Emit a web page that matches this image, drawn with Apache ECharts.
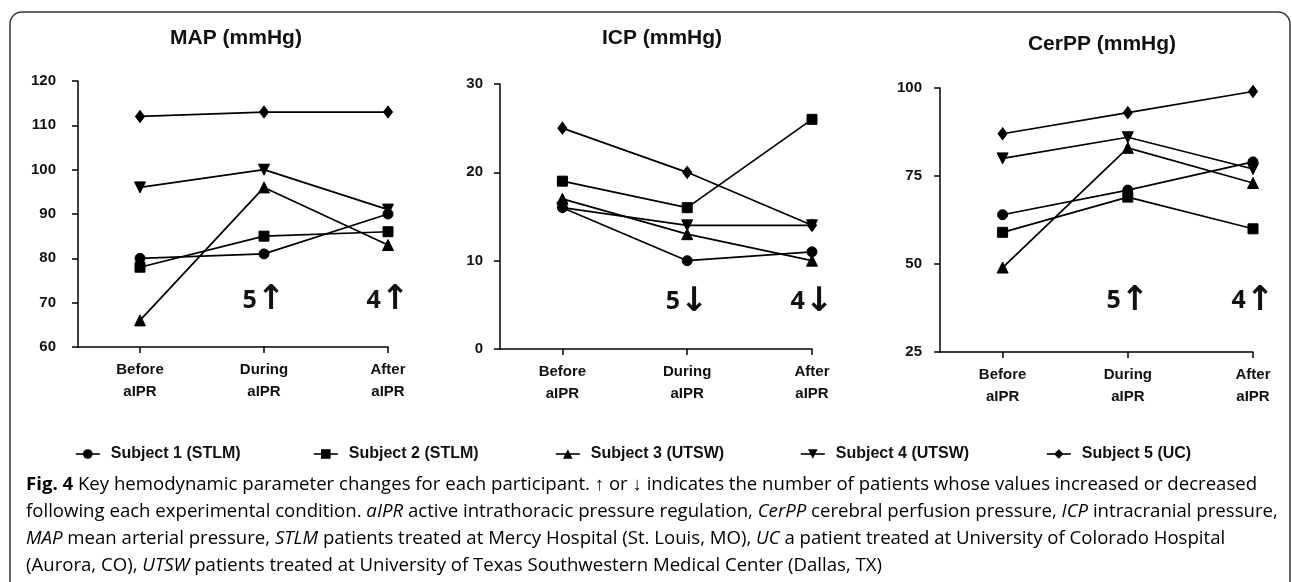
<!DOCTYPE html>
<html>
<head>
<meta charset="utf-8">
<script src="https://cdn.jsdelivr.net/npm/echarts@6/dist/echarts.min.js"></script>
<style>
html,body{margin:0;padding:0;background:#fff;}
#c{width:1292px;height:582px;}
</style>
</head>
<body>
<div id="c"></div>
<script>
// ---------- DATA ----------
const categories = ['Before aIPR', 'During aIPR', 'After aIPR'];
const subjects = ['Subject 1 (STLM)', 'Subject 2 (STLM)', 'Subject 3 (UTSW)', 'Subject 4 (UTSW)', 'Subject 5 (UC)'];
const panelTitles = ['MAP (mmHg)', 'ICP (mmHg)', 'CerPP (mmHg)'];

// values per subject: [Before, During, After]
const mapValues = [
  [80, 81, 90],
  [78, 85, 86],
  [66, 96, 83],
  [96, 100, 91],
  [112, 113, 113]
];
const icpValues = [
  [16, 10, 11],
  [19, 16, 26],
  [17, 13, 10],
  [16, 14, 14],
  [25, 20, 14]
];
const cerppValues = [
  [64, 71, 79],
  [59, 69, 60],
  [49, 83, 73],
  [80, 86, 77],
  [87, 93, 99]
];
const mapTicks = [60, 70, 80, 90, 100, 110, 120];
const icpTicks = [0, 10, 20, 30];
const cerppTicks = [25, 50, 75, 100];
// [count, arrow] for During and After
const changeLabels = [[['5', '↑'], ['4', '↑']], [['5', '↓'], ['4', '↓']], [['5', '↑'], ['4', '↑']]];

const captionLines = [
  [['b', 'Fig. 4'], ['n', ' Key hemodynamic parameter changes for each participant. ↑ or ↓ indicates the number of patients whose values increased or decreased']],
  [['n', 'following each experimental condition. '], ['i', 'aIPR'], ['n', ' active intrathoracic pressure regulation, '], ['i', 'CerPP'], ['n', ' cerebral perfusion pressure, '], ['i', 'ICP'], ['n', ' intracranial pressure,']],
  [['i', 'MAP'], ['n', ' mean arterial pressure, '], ['i', 'STLM'], ['n', ' patients treated at Mercy Hospital (St. Louis, MO), '], ['i', 'UC'], ['n', ' a patient treated at University of Colorado Hospital']],
  [['n', '(Aurora, CO), '], ['i', 'UTSW'], ['n', ' patients treated at University of Texas Southwestern Medical Center (Dallas, TX)']]
];

// ---------- LAYOUT / STYLE ----------
const FONT = '"Liberation Sans", Arial, sans-serif';
const CAPFONT = '"Open Sans", "Noto Sans", sans-serif';
const panels = [
  { values: mapValues, ticks: mapTicks, grid: { left: 78, top: 81, width: 310, height: 266 }, titleX: 236, titleY: 38, annY: 70.5, labelMargin: 22 },
  { values: icpValues, ticks: icpTicks, grid: { left: 500, top: 84, width: 312, height: 265 }, titleX: 662, titleY: 38, annY: 5.3, labelMargin: 17 },
  { values: cerppValues, ticks: cerppTicks, grid: { left: 940, top: 88, width: 313, height: 264 }, titleX: 1102, titleY: 44, annY: 39.5, labelMargin: 18 }
];
const symbols = [
  { symbol: 'circle', size: 10, rotate: 0 },
  { symbol: 'rect', size: 10, rotate: 0 },
  { symbol: 'triangle', size: 11, rotate: 0 },
  { symbol: 'triangle', size: 11, rotate: 180 },
  { symbol: 'diamond', size: [9, 12], rotate: 0 }
];
const legendX = [70, 308, 550, 795, 1041];

const grids = [], xAxes = [], yAxes = [], series = [], graphics = [];

panels.forEach((p, pi) => {
  grids.push(Object.assign({ containLabel: false }, p.grid));
  xAxes.push({
    type: 'value', gridIndex: pi, min: -0.5, max: 2,
    splitLine: { show: false },
    axisLine: { show: true, onZero: false, lineStyle: { color: '#000', width: 1.5 } },
    axisTick: { show: true, customValues: [0, 1, 2], length: 6, lineStyle: { color: '#000', width: 1.5 } },
    axisLabel: {
      customValues: [0, 1, 2], margin: 12,
      formatter: v => categories[Math.round(v)].replace(' ', '\n'),
      fontFamily: FONT, fontWeight: 'bold', fontSize: 15, color: '#111', lineHeight: 22
    }
  });
  const t = p.ticks;
  yAxes.push({
    type: 'value', gridIndex: pi, min: t[0], max: t[t.length - 1], interval: t[1] - t[0],
    splitLine: { show: false },
    axisLine: { show: true, onZero: false, lineStyle: { color: '#000', width: 1.5 } },
    axisTick: { show: true, inside: false, length: 6, lineStyle: { color: '#000', width: 1.5 } },
    axisLabel: { margin: p.labelMargin, fontFamily: FONT, fontWeight: 'bold', fontSize: 15, color: '#111' }
  });
  p.values.forEach((vals, si) => {
    const s = {
      name: subjects[si], type: 'line', xAxisIndex: pi, yAxisIndex: pi,
      data: vals.map((v, i) => [i, v]),
      symbol: symbols[si].symbol, symbolSize: symbols[si].size, symbolRotate: symbols[si].rotate,
      showSymbol: true, animation: false,
      lineStyle: { color: '#000', width: 1.7 },
      itemStyle: { color: '#000', borderColor: '#000' },
      emphasis: { disabled: true }
    };
    if (si === 0) {
      s.markPoint = {
        symbol: 'circle', symbolSize: 1, itemStyle: { color: 'rgba(0,0,0,0)' },
        label: {
          show: true, position: 'inside',
          rich: {
            d: { fontFamily: CAPFONT, fontWeight: 'bold', fontSize: 25, color: '#111', verticalAlign: 'middle' },
            a: { fontFamily: '"DejaVu Sans", sans-serif', fontWeight: 'bold', fontSize: 34, color: '#111', verticalAlign: 'middle' }
          }
        },
        data: changeLabels[pi].map((pair, k) => ({
          coord: [k + 1, p.annY],
          label: { formatter: '{d|' + pair[0] + '}{a|' + pair[1] + '}' }
        }))
      };
    }
    series.push(s);
  });
  graphics.push({
    type: 'text', silent: true,
    style: { x: p.titleX, y: p.titleY, text: panelTitles[pi], textAlign: 'center', textVerticalAlign: 'middle',
      font: 'bold 21px ' + FONT, fill: '#111' }
  });
});

// frame
graphics.unshift({
  type: 'rect', silent: true,
  shape: { x: 10, y: 12, width: 1280, height: 620, r: 12 },
  style: { fill: 'none', stroke: '#333', lineWidth: 1.5 }
});

// caption
const rich = {
  b: { fontFamily: CAPFONT, fontWeight: 'bold', fontSize: 18.6, color: '#111' },
  n: { fontFamily: CAPFONT, fontSize: 18.6, color: '#444' },
  i: { fontFamily: CAPFONT, fontStyle: 'italic', fontSize: 18.6, color: '#444' }
};
captionLines.forEach((line, li) => {
  graphics.push({
    type: 'text', silent: true,
    style: {
      x: 26, y: 485 + li * 26.8, textVerticalAlign: 'middle',
      text: line.map(seg => '{' + seg[0] + '|' + seg[1] + '}').join(''),
      rich: rich
    }
  });
});

const legends = subjects.map((name, i) => ({
  data: [name], left: legendX[i], top: 441, itemWidth: 24, itemHeight: 12,
  selectedMode: false,
  textStyle: { fontFamily: FONT, fontWeight: 'bold', fontSize: 16, color: '#111', padding: [0, 0, 0, 6] },
  itemStyle: { color: '#000' },
  lineStyle: { color: '#000', width: 1.6 }
}));

const chart = echarts.init(document.getElementById('c'), null, { renderer: 'canvas' });
chart.setOption({
  animation: false,
  backgroundColor: '#fff',
  grid: grids, xAxis: xAxes, yAxis: yAxes, series: series,
  legend: legends,
  graphic: graphics
});
</script>
</body>
</html>
